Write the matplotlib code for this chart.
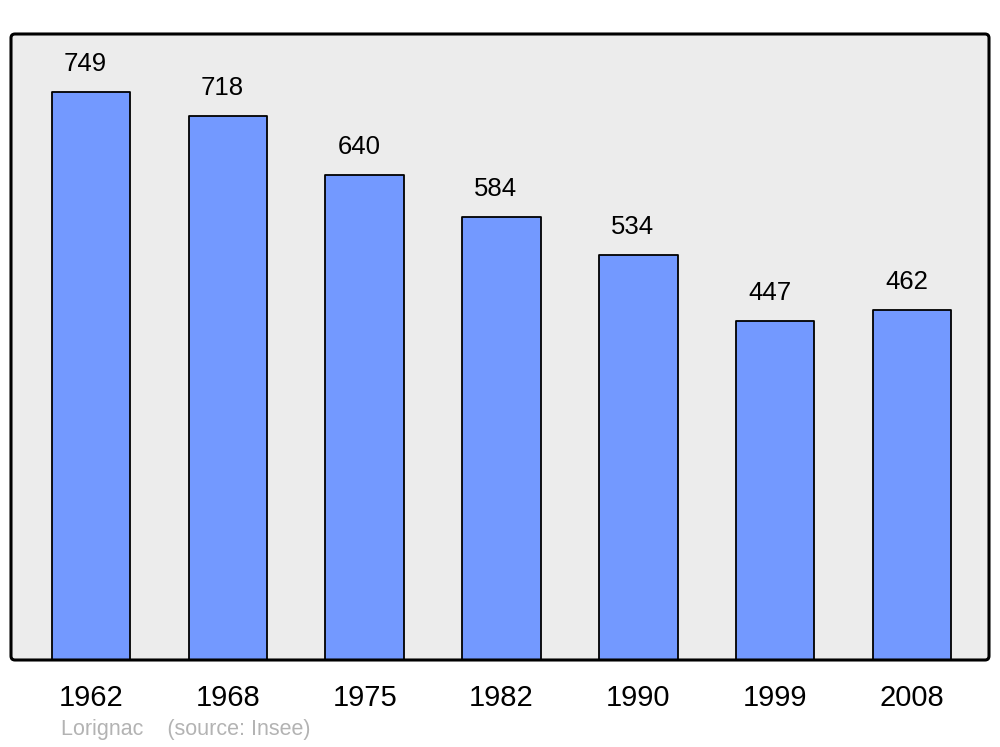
import matplotlib
matplotlib.use("Agg")
import matplotlib.pyplot as plt
from matplotlib.patches import FancyBboxPatch
from matplotlib.transforms import IdentityTransform

years = ["1962", "1968", "1975", "1982", "1990", "1999", "2008"]
population = [749, 718, 640, 584, 534, 447, 462]

plt.rcParams['font.family'] = ['Liberation Sans', 'DejaVu Sans']

fig = plt.figure(figsize=(10, 7.47), dpi=100)
ax = fig.add_axes([0.011, 87/747, 0.978, 626/747])
ax.set_facecolor('#ececec')

x = list(range(len(years)))
bars = ax.bar(x, population, width=0.575, color='#7399ff', edgecolor='black',
              linewidth=1.3, joinstyle='round')
for xi, v in zip(x, population):
    ax.annotate(str(v), (xi, v), xytext=(-4, 20), textcoords='offset points',
                ha='center', va='center', fontsize=18.5)

ax.set_xlim(-0.585, 6.563)
ax.set_ylim(0, 825.5)
ax.set_xticks(x)
ax.set_xticklabels(years, fontsize=21)
ax.tick_params(axis='x', length=0, pad=17)
ax.set_yticks([])
for s in ax.spines.values():
    s.set_visible(False)

frame = FancyBboxPatch((11, 87), 978, 626, boxstyle="round,pad=0,rounding_size=4",
                       transform=IdentityTransform(), fill=False,
                       edgecolor='black', linewidth=2.2, zorder=5)
fig.patches.append(frame)

fig.text(0.061, 1 - 730/747, "Lorignac    (source: Insee)", color='#b3b3b3',
         fontsize=15.5, va='center', ha='left')

fig.savefig("out.png", dpi=100)
